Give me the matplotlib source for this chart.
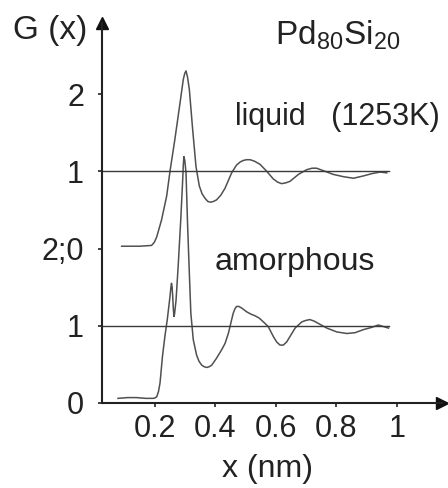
import matplotlib
matplotlib.use('Agg')
import matplotlib.pyplot as plt

plt.rcParams['font.family'] = ['Liberation Sans', 'DejaVu Sans']
plt.rcParams['mathtext.default'] = 'regular'

# liquid Pd80Si20 (1253K), drawn shifted up by 2
x_liquid = [0.090, 0.150, 0.189, 0.198, 0.206, 0.222, 0.239, 0.250, 0.266, 0.283,
            0.294, 0.299, 0.303, 0.308, 0.314, 0.325, 0.336, 0.347, 0.356, 0.366,
            0.375, 0.384, 0.394, 0.404, 0.418, 0.432, 0.454, 0.470, 0.482, 0.492,
            0.503, 0.515, 0.530, 0.548, 0.570, 0.592, 0.606, 0.619, 0.633, 0.647,
            0.675, 0.702, 0.720, 0.735, 0.763, 0.790, 0.824, 0.857, 0.890, 0.918,
            0.945, 0.967]
g_liquid = [0.03, 0.03, 0.04, 0.08, 0.15, 0.37, 0.68, 1.00, 1.41, 1.88,
            2.19, 2.27, 2.30, 2.22, 2.06, 1.54, 1.06, 0.81, 0.71, 0.65,
            0.61, 0.60, 0.61, 0.63, 0.69, 0.78, 0.98, 1.08, 1.12, 1.14,
            1.15, 1.15, 1.13, 1.09, 1.00, 0.90, 0.86, 0.84, 0.85, 0.87,
            0.96, 1.02, 1.04, 1.04, 1.00, 0.96, 0.93, 0.91, 0.94, 0.97,
            0.99, 0.98]

# amorphous Pd80Si20
x_amorph = [0.078, 0.110, 0.139, 0.170, 0.194, 0.200, 0.206, 0.212, 0.217, 0.225,
            0.233, 0.241, 0.250, 0.253, 0.255, 0.257, 0.259, 0.261, 0.263, 0.265,
            0.270, 0.277, 0.285, 0.292, 0.294, 0.296, 0.299, 0.303, 0.308, 0.314,
            0.319, 0.327, 0.338, 0.346, 0.355, 0.363, 0.371, 0.380, 0.388, 0.404,
            0.421, 0.432, 0.443, 0.451, 0.459, 0.465, 0.470, 0.478, 0.487, 0.504,
            0.518, 0.531, 0.545, 0.559, 0.575, 0.592, 0.603, 0.614, 0.625, 0.636,
            0.650, 0.664, 0.686, 0.700, 0.713, 0.727, 0.741, 0.769, 0.802, 0.835,
            0.862, 0.890, 0.918, 0.939, 0.956, 0.973]
g_amorph = [0.06, 0.07, 0.07, 0.06, 0.06, 0.065, 0.08, 0.15, 0.26, 0.60,
            0.86, 1.08, 1.38, 1.50, 1.55, 1.50, 1.38, 1.22, 1.12, 1.15,
            1.33, 1.77, 2.33, 2.89, 3.08, 3.19, 3.14, 2.98, 2.33, 1.68,
            1.16, 0.82, 0.62, 0.54, 0.49, 0.47, 0.46, 0.47, 0.49, 0.58,
            0.69, 0.77, 0.90, 1.03, 1.16, 1.22, 1.25, 1.25, 1.23, 1.18,
            1.15, 1.13, 1.10, 1.05, 0.99, 0.86, 0.79, 0.75, 0.75, 0.79,
            0.88, 0.97, 1.05, 1.07, 1.08, 1.06, 1.03, 0.97, 0.92, 0.90,
            0.91, 0.95, 0.98, 1.01, 0.99, 0.97]

offset = 2
x_ticks = [0.2, 0.4, 0.6, 0.8, 1]
x_tick_labels = ['0.2', '0.4', '0.6', '0.8', '1']
y_ticks = [0, 1, 2, 3, 4]
y_tick_labels = ['0', '1', '2;0', '1', '2']

fig = plt.figure(figsize=(4.48, 4.88), dpi=100)
ax = fig.add_axes([102 / 448, 85 / 488, 340 / 448, 380 / 488])
x_left, x_right = 0.025, 1.15
y_top = 4.92
ax.set_xlim(x_left, x_right)
ax.set_ylim(0, y_top)

line_col = '#505050'
ax.plot(x_liquid, [g + offset for g in g_liquid], color=line_col, lw=1.1)
ax.plot(x_amorph, g_amorph, color=line_col, lw=1.1)
ax.plot([x_left, 0.975], [1, 1], color='#3a3a3a', lw=1.0)
ax.plot([x_left, 0.975], [1 + offset, 1 + offset], color='#3a3a3a', lw=1.0)

for s in ['top', 'right']:
    ax.spines[s].set_visible(False)
for s in ['left', 'bottom']:
    ax.spines[s].set_linewidth(1.5)
    ax.spines[s].set_color('#222222')

# arrow heads on the axes
ax.plot(x_left, y_top, marker='^', color='#111111', ms=8, clip_on=False)
ax.plot(x_right, 0, marker='>', color='#111111', ms=8, clip_on=False)

ax.set_xticks(x_ticks)
ax.set_xticklabels(x_tick_labels)
ax.set_yticks(y_ticks)
ax.set_yticklabels(y_tick_labels)
ax.tick_params(axis='both', labelsize=22, length=3, width=1.2, color='#222222',
               labelcolor='#222222')
ax.tick_params(axis='x', pad=5)
ax.tick_params(axis='y', pad=10)

fig.text(13 / 448, 1 - 30 / 488, 'G (x)', fontsize=24, va='center', ha='left',
         color='#222222')
fig.text(275 / 448, 1 - 45 / 488, r'Pd$_{80}$Si$_{20}$', fontsize=24,
         va='baseline', ha='left', color='#222222')
fig.text(235 / 448, 1 - 125 / 488, 'liquid   (1253K)', fontsize=22,
         va='baseline', ha='left', color='#222222')
fig.text(215 / 448, 1 - 270 / 488, 'amorphous', fontsize=23,
         va='baseline', ha='left', color='#222222')
fig.text(268 / 448, 1 - 477 / 488, 'x (nm)', fontsize=23,
         va='baseline', ha='center', color='#222222')

fig.savefig('out.png', dpi=100)
